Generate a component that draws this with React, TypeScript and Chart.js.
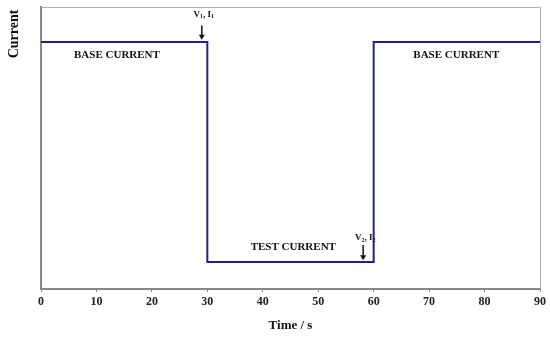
import React, { useEffect, useRef } from "react";
import { Chart, registerables } from "chart.js";

Chart.register(...registerables);

// Step profile of current vs time
const timePoints = [0, 30, 30, 60, 60, 90];
const currentLevels = [87.6, 87.6, 9.6, 9.6, 87.6, 87.6];

const xTicks = [0, 10, 20, 30, 40, 50, 60, 70, 80, 90];

const textLabels = [
  { text: "BASE CURRENT", x: 13.7, y: 83.0 },
  { text: "BASE CURRENT", x: 74.9, y: 83.0 },
  { text: "TEST CURRENT", x: 45.5, y: 15.0 },
];

const markers = [
  { v: "1", x: 29.0, textY: 97.4, arrowFrom: 93.4, arrowTo: 88.4 },
  { v: "2", x: 58.1, textY: 18.1, arrowFrom: 15.6, arrowTo: 10.2 },
];

const SERIF = "'Liberation Serif', 'Times New Roman', serif";

const overlayPlugin = {
  id: "overlay",
  afterDatasetsDraw(chart: any) {
    const { ctx, chartArea, scales } = chart;
    const xs = scales.x;
    const ys = scales.y;
    ctx.save();
    // top & right frame
    ctx.strokeStyle = "#b0b0b0";
    ctx.lineWidth = 1;
    ctx.beginPath();
    ctx.moveTo(chartArea.left, chartArea.top + 0.5);
    ctx.lineTo(chartArea.right + 0.5, chartArea.top + 0.5);
    ctx.lineTo(chartArea.right + 0.5, chartArea.bottom);
    ctx.stroke();

    ctx.fillStyle = "#111";
    ctx.textAlign = "center";
    ctx.textBaseline = "middle";
    ctx.font = `bold 11px ${SERIF}`;
    for (const l of textLabels) {
      ctx.fillText(l.text, xs.getPixelForValue(l.x), ys.getPixelForValue(l.y));
    }

    for (const m of markers) {
      const px = xs.getPixelForValue(m.x);
      const ty = ys.getPixelForValue(m.textY);
      // text "V_n, I_n"
      const big = `bold 9px ${SERIF}`;
      const small = `bold 6px ${SERIF}`;
      const parts = [
        { t: "V", f: big, dy: 0 },
        { t: m.v, f: small, dy: 2 },
        { t: ", I", f: big, dy: 0 },
        { t: m.v, f: small, dy: 2 },
      ];
      let total = 0;
      for (const p of parts) {
        ctx.font = p.f;
        total += ctx.measureText(p.t).width;
      }
      let cx = px + 2 - total / 2;
      ctx.textAlign = "left";
      for (const p of parts) {
        ctx.font = p.f;
        ctx.fillText(p.t, cx, ty + p.dy);
        cx += ctx.measureText(p.t).width;
      }
      // arrow
      const y1 = ys.getPixelForValue(m.arrowFrom);
      const y2 = ys.getPixelForValue(m.arrowTo);
      ctx.strokeStyle = "#111";
      ctx.lineWidth = 1.5;
      ctx.beginPath();
      ctx.moveTo(px, y1);
      ctx.lineTo(px, y2 - 4);
      ctx.stroke();
      ctx.beginPath();
      ctx.moveTo(px - 3, y2 - 5);
      ctx.lineTo(px + 3, y2 - 5);
      ctx.lineTo(px, y2);
      ctx.closePath();
      ctx.fill();
    }

    // axis titles
    ctx.textAlign = "center";
    ctx.font = `bold 13px ${SERIF}`;
    ctx.fillText("Time / s", (chartArea.left + chartArea.right) / 2, 326);
    ctx.save();
    ctx.translate(14, 34);
    ctx.rotate(-Math.PI / 2);
    ctx.font = `bold 14px ${SERIF}`;
    ctx.fillText("Current", 0, 0);
    ctx.restore();
    ctx.restore();
  },
};

export default function App() {
  const ref = useRef<HTMLCanvasElement>(null);
  useEffect(() => {
    if (!ref.current) return;
    const chart = new Chart(ref.current, {
      type: "line",
      data: {
        datasets: [
          {
            data: timePoints.map((t, i) => ({ x: t, y: currentLevels[i] })),
            borderColor: "#1f1f99",
            borderWidth: 2,
            pointRadius: 0,
            fill: false,
            tension: 0,
          },
        ],
      },
      options: {
        animation: false,
        responsive: false,
        maintainAspectRatio: false,
        layout: { padding: { left: 0, top: 7, right: 10, bottom: 0 } },
        plugins: { legend: { display: false }, tooltip: { enabled: false } },
        scales: {
          x: {
            type: "linear",
            min: 0,
            max: 90,
            afterFit: (s: any) => {
              s.height = 48;
            },
            afterBuildTicks: (s: any) => {
              s.ticks = xTicks.map((v) => ({ value: v }));
            },
            ticks: {
              color: "#222",
              font: { family: SERIF, size: 12, weight: "bold" },
              padding: 3,
              maxRotation: 0,
            },
            grid: { drawOnChartArea: false, drawTicks: true, tickLength: 3, color: "#888" },
            border: { color: "#888", width: 2 },
          },
          y: {
            min: 0,
            max: 100,
            afterFit: (s: any) => {
              s.width = 41;
            },
            ticks: { display: false },
            grid: { display: false },
            border: { color: "#888", width: 2 },
          },
        },
      },
      plugins: [overlayPlugin],
    });
    return () => chart.destroy();
  }, []);
  return (
    <div style={{ position: "fixed", left: 0, top: 0, width: 550, height: 337, background: "#fff" }}>
      <canvas ref={ref} width={550} height={337} />
    </div>
  );
}
